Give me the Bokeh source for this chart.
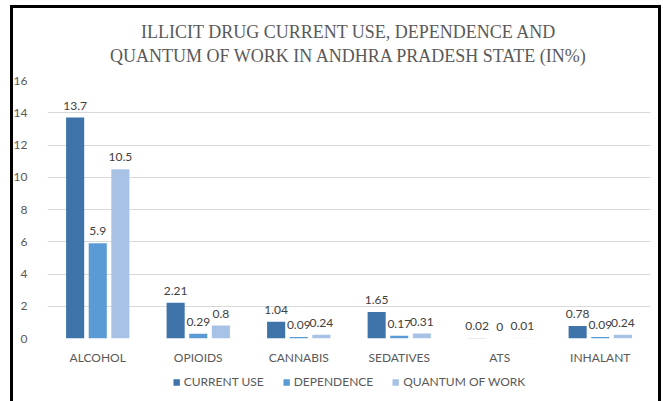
from bokeh.plotting import figure
from bokeh.models import FactorRange, ColumnDataSource, Legend, LegendItem, Title, LabelSet, FixedTicker, Range1d
from bokeh.layouts import column
from bokeh.core.properties import value
from bokeh.transform import dodge
from bokeh.embed import file_html
from bokeh.resources import INLINE

categories = ["ALCOHOL", "OPIOIDS", "CANNABIS", "SEDATIVES", "ATS", "INHALANT"]
current_use = [13.7, 2.21, 1.04, 1.65, 0.02, 0.78]
dependence = [5.9, 0.29, 0.09, 0.17, 0.0, 0.09]
quantum_of_work = [10.5, 0.8, 0.24, 0.31, 0.01, 0.24]
series_names = ["CURRENT USE", "DEPENDENCE", "QUANTUM OF WORK"]
y_ticks = [0, 2, 4, 6, 8, 10, 12, 14, 16]
title_text = "ILLICIT DRUG CURRENT USE, DEPENDENCE AND\nQUANTUM OF WORK IN ANDHRA PRADESH STATE (IN%)"

colors = ["#3F74AB", "#5B9BD5", "#A7C2E4"]
gray = "#595959"
font = "Lato"

src = ColumnDataSource(dict(
    cat=categories,
    cu=current_use, dep=dependence, qw=quantum_of_work,
    cu_l=["{:g}".format(v) for v in current_use],
    dep_l=["{:g}".format(v) for v in dependence],
    qw_l=["{:g}".format(v) for v in quantum_of_work],
))

p = figure(x_range=FactorRange(*categories), y_range=(0, 16),
           width=651, height=363, output_backend="svg", toolbar_location=None,
           min_border_left=30, min_border_right=11, min_border_top=74, min_border_bottom=30)
p.border_fill_color = None
p.background_fill_color = "white"

t = Title(text=title_text, align="center", text_align="center",
          text_font="Liberation Serif", text_font_size="18px", text_font_style="normal",
          text_color=gray, text_line_height=1.2, standoff=29)
p.add_layout(t, "above")

keys = ["cu", "dep", "qw"]
offs = [-0.225, 0.0, 0.225]
for k, o, c in zip(keys, offs, colors):
    p.vbar(x=dodge("cat", o, range=p.x_range), top=k, width=0.18, source=src,
           fill_color=c, line_color=None)
    ls = LabelSet(x=dodge("cat", o, range=p.x_range), y=k, text=k + "_l", source=src,
                  text_align="center", text_baseline="bottom", y_offset=8,
                  text_font=value(font), text_font_size=value("12px"), text_color=value("#404040"))
    p.add_layout(ls)

p.xaxis.axis_line_color = None
p.xaxis.major_tick_line_color = None
p.xaxis.major_label_text_font = font
p.xaxis.major_label_text_font_size = "12px"
p.xaxis.major_label_text_color = gray
p.xaxis.major_label_standoff = 5
p.xgrid.grid_line_color = None

p.yaxis.ticker = FixedTicker(ticks=y_ticks)
p.yaxis.axis_line_color = None
p.yaxis.major_tick_line_color = None
p.yaxis.minor_tick_line_color = None
p.yaxis.major_label_text_font = font
p.yaxis.major_label_text_font_size = "12px"
p.yaxis.major_label_text_color = gray
p.yaxis.major_label_standoff = 14
p.ygrid.grid_line_color = "#D9D9D9"
p.ygrid.ticker = FixedTicker(ticks=y_ticks)
p.outline_line_color = None
p.x_range.range_padding = 0.0

# legend strip below the chart (zero-height swatch renderers only feed the legend)
lg = figure(width=651, height=33, output_backend="svg", toolbar_location=None,
            x_range=Range1d(0, 1), y_range=Range1d(0, 1),
            x_axis_type=None, y_axis_type=None,
            min_border_left=0, min_border_right=0, min_border_top=0, min_border_bottom=0)
lg.border_fill_color = None
lg.background_fill_color = None
lg.outline_line_color = None
lg.xgrid.grid_line_color = None
lg.ygrid.grid_line_color = None
swatch = ColumnDataSource(dict(x=[0.5], top=[0.0]))
legend_renderers = [lg.vbar(x="x", top="top", bottom=0, width=0.0, source=swatch,
                            fill_color=c, line_color=None)
                    for c in colors]
legend = Legend(items=[LegendItem(label=n, renderers=[r], index=0)
                       for n, r in zip(series_names, legend_renderers)],
                orientation="horizontal", location="top_center",
                label_text_font=font, label_text_font_size="12px", label_text_color=gray,
                glyph_width=8, glyph_height=8, spacing=18, label_standoff=4, label_height=14,
                border_line_color=None, background_fill_alpha=0, padding=0, margin=6)
lg.add_layout(legend, "center")

layout = column(p, lg, spacing=0,
                styles={"box-shadow": "inset 3px 3px 0 0 black, inset -3px 0 0 0 black",
                        "margin-left": "10px", "margin-top": "5px"})

open("out.html", "w").write(file_html(layout, INLINE))
